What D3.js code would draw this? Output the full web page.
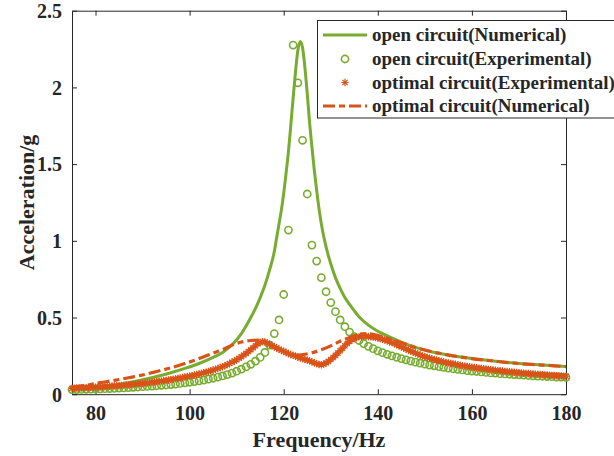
<!DOCTYPE html>
<html>
<head>
<meta charset="utf-8">
<script src="https://cdn.jsdelivr.net/npm/d3@7"></script>
<style>
  html, body { margin: 0; padding: 0; background: #fff; }
  svg { display: block; }
  text { font-family: "Liberation Serif", "Times New Roman", serif; font-weight: bold; fill: #262626; }
</style>
</head>
<body>
<svg id="chart" width="614" height="456"></svg>
<script>
// ---------- data ----------
const xTicks = [80, 100, 120, 140, 160, 180];
const yTicks = [0, 0.5, 1, 1.5, 2, 2.5];
const yTickLabels = ["0", "0.5", "1", "1.5", "2", "2.5"];
const seriesNames = ["open circuit(Numerical)", "open circuit(Experimental)", "optimal circuit(Experimental)", "optimal circuit(Numerical)"];

// open circuit, numerical (solid green)
const openNumFreq = [75,78,81,84,87,90,93,96,99,102,105,107,108,109,110,111,112,113,114,115,116,117,118,118.5,119,119.5,120,120.5,121,121.5,122,122.5,123,123.5,124,124.5,125,125.5,126,126.5,127,127.5,128,129,130,131,132,133,134,136,138,140,142,145,148,151,155,160,165,170,175,180];
const openNumVal  = [0.035,0.042,0.05,0.06,0.075,0.095,0.115,0.14,0.168,0.2,0.24,0.272,0.295,0.322,0.355,0.395,0.445,0.50,0.56,0.63,0.71,0.81,0.93,1.02,1.11,1.20,1.31,1.44,1.58,1.75,1.93,2.10,2.24,2.30,2.26,2.13,1.96,1.77,1.61,1.46,1.33,1.21,1.11,0.96,0.85,0.76,0.69,0.63,0.585,0.505,0.45,0.41,0.38,0.34,0.305,0.28,0.255,0.232,0.215,0.2,0.19,0.18];

// open circuit, experimental (green circles), 75..180 Hz step 1
const openExpFreq = d3.range(75, 181, 1);
const openExpVal = [
  0.030,0.030,0.031,0.032,0.033,0.034,0.035,0.036,0.037,0.038,
  0.040,0.041,0.043,0.045,0.047,0.049,0.051,0.053,0.055,0.058,
  0.060,0.063,0.066,0.070,0.074,0.078,0.082,0.087,0.092,0.098,
  0.104,0.111,0.119,0.128,0.138,0.150,0.163,0.178,0.195,0.215,
  0.240,0.272,0.320,0.395,0.484,0.650,1.070,2.276,2.030,1.655,
  1.305,0.972,0.868,0.760,0.668,0.597,0.538,0.484,0.440,0.405,
  0.375,0.350,0.330,0.312,0.297,0.283,0.271,0.260,0.250,0.241,
  0.232,0.224,0.216,0.209,0.202,0.196,0.190,0.185,0.180,0.175,
  0.170,0.166,0.162,0.158,0.154,0.151,0.148,0.145,0.142,0.139,
  0.137,0.134,0.132,0.130,0.128,0.126,0.124,0.122,0.120,0.118,
  0.117,0.115,0.114,0.112,0.111,0.110];

// optimal circuit, experimental (orange asterisks), 75..180 Hz step 0.5
const optExpFreq = d3.range(0, 211).map(i => 75 + i * 0.5);
const optExpVal = [
  0.038,0.039,0.040,0.040,0.041,0.042,0.043,0.043,0.044,0.045,
  0.046,0.047,0.048,0.049,0.050,0.051,0.052,0.053,0.054,0.055,
  0.056,0.057,0.059,0.060,0.061,0.063,0.064,0.066,0.067,0.069,
  0.070,0.072,0.074,0.076,0.078,0.080,0.082,0.084,0.086,0.088,
  0.090,0.093,0.095,0.098,0.100,0.103,0.106,0.109,0.112,0.115,
  0.118,0.121,0.125,0.128,0.132,0.136,0.140,0.144,0.148,0.153,
  0.158,0.163,0.168,0.174,0.180,0.186,0.193,0.200,0.208,0.216,
  0.225,0.234,0.244,0.255,0.266,0.278,0.290,0.303,0.316,0.328,
  0.338,0.343,0.340,0.333,0.325,0.317,0.309,0.301,0.293,0.286,
  0.279,0.272,0.265,0.259,0.253,0.247,0.242,0.237,0.232,0.227,
  0.222,0.217,0.211,0.205,0.199,0.194,0.192,0.196,0.204,0.214,
  0.226,0.239,0.253,0.268,0.284,0.300,0.316,0.331,0.344,0.355,
  0.364,0.370,0.374,0.376,0.377,0.377,0.376,0.374,0.372,0.369,
  0.366,0.362,0.358,0.353,0.348,0.342,0.336,0.330,0.323,0.316,
  0.309,0.302,0.295,0.288,0.281,0.275,0.268,0.262,0.256,0.250,
  0.245,0.240,0.235,0.230,0.226,0.222,0.218,0.214,0.210,0.207,
  0.204,0.201,0.198,0.195,0.192,0.189,0.186,0.184,0.181,0.179,
  0.176,0.174,0.172,0.170,0.168,0.166,0.164,0.162,0.160,0.158,
  0.156,0.154,0.153,0.151,0.149,0.148,0.146,0.145,0.143,0.142,
  0.140,0.139,0.137,0.136,0.135,0.133,0.132,0.131,0.130,0.129,
  0.127,0.126,0.125,0.124,0.123,0.122,0.121,0.120,0.119,0.118,
  0.117];

// optimal circuit, numerical (orange dash-dot)
const optNumFreq = [75,78,81,84,87,90,93,96,99,102,105,107,109,111,113,114.5,116,117,118,119,120,121,122,123,124,126,128,130,132,134,136,137.5,139,140,142,145,148,151,155,160,165,170,175,180];
const optNumVal  = [0.045,0.058,0.075,0.09,0.107,0.125,0.148,0.172,0.2,0.232,0.268,0.29,0.32,0.34,0.35,0.352,0.342,0.33,0.31,0.29,0.275,0.262,0.256,0.255,0.258,0.27,0.29,0.315,0.345,0.37,0.39,0.395,0.39,0.383,0.365,0.335,0.305,0.28,0.255,0.232,0.215,0.2,0.19,0.18];

// ---------- drawing ----------
const green = "#77AC30", orange = "#D95319", axisCol = "#262626";
const svg = d3.select("#chart");
const L = 72, R = 566, T = 10.7, B = 394.2;
const x = d3.scaleLinear().domain([75, 180]).range([L, R]);
const y = d3.scaleLinear().domain([0, 2.5]).range([B, T]);

// axes (ticks inward, MATLAB box)
const gx = svg.append("g").attr("transform", `translate(0,${B})`)
  .call(d3.axisBottom(x).tickValues(xTicks).tickSizeInner(-5).tickSizeOuter(0).tickPadding(12).tickFormat(d3.format("d")));
const gxt = svg.append("g").attr("transform", `translate(0,${T})`)
  .call(d3.axisTop(x).tickValues(xTicks).tickSizeInner(-5).tickSizeOuter(0).tickFormat(""));
const gy = svg.append("g").attr("transform", `translate(${L},0)`)
  .call(d3.axisLeft(y).tickValues(yTicks).tickSizeInner(-5).tickSizeOuter(0).tickPadding(10).tickFormat((d, i) => yTickLabels[i]));
const gyr = svg.append("g").attr("transform", `translate(${R},0)`)
  .call(d3.axisRight(y).tickValues(yTicks).tickSizeInner(-5).tickSizeOuter(0).tickFormat(""));
[gx, gxt, gy, gyr].forEach(g => {
  g.selectAll("path.domain").attr("stroke", axisCol).attr("stroke-width", 1);
  g.selectAll(".tick line").attr("stroke", axisCol).attr("stroke-width", 1);
  g.selectAll(".tick text").style("font-family", '"Liberation Serif", serif').style("font-weight", "bold")
    .style("font-size", "20px").attr("fill", axisCol);
});
gy.selectAll(".tick text").attr("dy", "0.34em");
gx.selectAll(".tick text").attr("dy", "0.71em");

// open numerical
const line = (fs, vs) => d3.line().curve(d3.curveMonotoneX).x((d, i) => x(fs[i])).y((d, i) => y(vs[i]))(vs);
svg.append("path").attr("d", line(openNumFreq, openNumVal))
  .attr("fill", "none").attr("stroke", green).attr("stroke-width", 3);

// open experimental circles
svg.append("g").selectAll("circle").data(openExpVal).join("circle")
  .attr("cx", (d, i) => x(openExpFreq[i])).attr("cy", d => y(d)).attr("r", 3.6)
  .attr("fill", "none").attr("stroke", green).attr("stroke-width", 1.6);

// optimal experimental asterisks
const star = (cx, cy, r) => {
  const a = r * 0.7071;
  return `M${cx - r},${cy}L${cx + r},${cy}M${cx},${cy - r}L${cx},${cy + r}` +
         `M${cx - a},${cy - a}L${cx + a},${cy + a}M${cx - a},${cy + a}L${cx + a},${cy - a}`;
};
svg.append("g").selectAll("path").data(optExpVal).join("path")
  .attr("d", (d, i) => star(x(optExpFreq[i]), y(d), 3.7))
  .attr("fill", "none").attr("stroke", orange).attr("stroke-width", 1.2);

// optimal numerical
svg.append("path").attr("d", line(optNumFreq, optNumVal))
  .attr("fill", "none").attr("stroke", orange).attr("stroke-width", 3.2)
  .attr("stroke-dasharray", "12,4,6,4");

// axis labels
svg.append("text").attr("x", (L + R) / 2).attr("y", 447).attr("text-anchor", "middle")
  .style("font-size", "22px").text("Frequency/Hz");
svg.append("text").attr("transform", `translate(34,${(T + B) / 2}) rotate(-90)`).attr("text-anchor", "middle")
  .style("font-size", "22px").text("Acceleration/g");

// legend
const lg = svg.append("g");
lg.append("rect").attr("x", 317.5).attr("y", 20.5).attr("width", 310).attr("height", 97.5)
  .attr("fill", "#fff").attr("stroke", axisCol).attr("stroke-width", 1);
const rowY = [35, 59, 82.5, 106];
seriesNames.forEach((name, i) => {
  const cy = rowY[i];
  if (i === 0) lg.append("line").attr("x1", 323).attr("x2", 367).attr("y1", cy).attr("y2", cy)
      .attr("stroke", green).attr("stroke-width", 3);
  if (i === 1) lg.append("circle").attr("cx", 345).attr("cy", cy).attr("r", 3.6)
      .attr("fill", "none").attr("stroke", green).attr("stroke-width", 1.6);
  if (i === 2) lg.append("path").attr("d", star(345, cy, 3.7)).attr("stroke", orange).attr("stroke-width", 1.2);
  if (i === 3) lg.append("line").attr("x1", 323).attr("x2", 367).attr("y1", cy).attr("y2", cy)
      .attr("stroke", orange).attr("stroke-width", 3.2).attr("stroke-dasharray", "12,4,6,4");
  lg.append("text").attr("x", 372).attr("y", cy).attr("dy", "0.32em").style("font-size", "19px").text(name);
});
</script>
</body>
</html>
